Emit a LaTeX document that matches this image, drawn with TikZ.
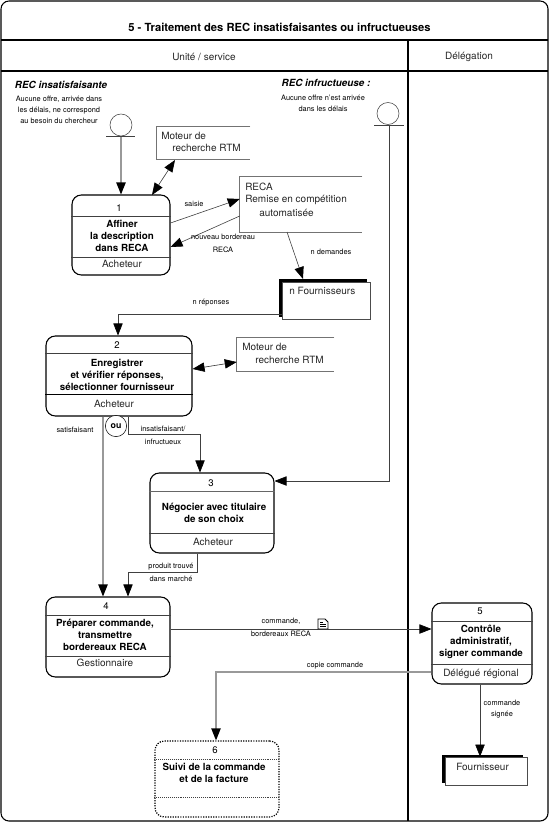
\documentclass[tikz,border=0pt]{standalone}
\usepackage{fontspec}
\setmainfont{TeX Gyre Heros}
\usetikzlibrary{arrows.meta}
\tikzset{
  tache/.style={draw, line width=0.8pt, rounded corners=7pt, fill=white},
  tachepot/.style={draw, line width=0.9pt, densely dotted, rounded corners=7pt},
  flow/.style={line width=0.45pt, black!75, -{Triangle[length=9pt,width=7pt,black]}},
  flowgris/.style={line width=0.9pt, black!40, -{Triangle[length=9pt,width=7pt,black]}},
  flowdouble/.style={line width=0.45pt, black!80, {Triangle[length=9pt,width=7pt,black]}-{Triangle[length=9pt,width=7pt,black]}},
  trait/.style={line width=0.45pt, black!75},
  cadre/.style={line width=0.8pt},
  etat/.style={draw, circle, line width=0.4pt, black!75, minimum size=16.5pt, inner sep=0pt},
  outil/.style={inner sep=0pt},
  acteur/.style={draw, line width=0.5pt, black!70, fill=white, inner sep=0pt},
  titre/.style={font=\fontsize{8.4}{10}\selectfont\bfseries},
  gras/.style={font=\fontsize{7.35}{9}\selectfont\bfseries, align=center},
  texte/.style={font=\fontsize{7.5}{9}\selectfont, text=black!85, align=center},
  petit/.style={font=\fontsize{5.55}{8.25}\selectfont, align=center},
  num/.style={font=\fontsize{7.2}{9}\selectfont},
  note/.style={font=\fontsize{7.4}{9}\selectfont\bfseries\itshape}
}
\begin{document}
\begin{tikzpicture}[x=0.75pt,y=-0.75pt]
\useasboundingbox (0,0) rectangle (550,823);

% cadre
\draw[cadre, rounded corners=6pt] (1,1) rectangle (548,821);
\draw[cadre] (1,40) -- (548,40);
\draw[cadre] (1,71) -- (548,71);
\draw[cadre] (408,40) -- (408,821);
\node[titre] (titre) at (279.5,27) {5 - Traitement des REC insatisfaisantes ou infructueuses};
\node[texte] (unite) at (204,57) {Unité / service};
\node[texte] (deleg) at (469,57) {Délégation};

% etats de depart
\node[note] (recins) at (61,85) {REC insatisfaisante};
\node[petit] (recinstxt) at (59,110) {Aucune offre, arrivée dans\\les délais, ne correspond\\au besoin du chercheur};
\node[note] (recinf) at (326,83) {REC infructueuse :};
\node[petit] (recinftxt) at (323,103) {Aucune offre n'est arrivée\\dans les délais};
\node[etat] (dep1) at (121,125) {};
\node[etat] (dep2) at (388,113.5) {};
\draw[trait] (106,136.5) -- (135,136.5);
\draw[trait] (374,125) -- (404,125);

% taches
\node[tache, minimum width=73.5pt, minimum height=60pt] (t1) at (121,235) {};
\node[tache, minimum width=109.5pt, minimum height=60pt] (t2) at (119,376) {};
\node[tache, minimum width=93pt, minimum height=60pt] (t3) at (212,513) {};
\node[tache, minimum width=93pt, minimum height=60pt] (t4) at (108,637) {};
\node[tache, minimum width=75pt, minimum height=60.75pt] (t5) at (482,643.5) {};
\node[tachepot, minimum width=93pt, minimum height=57pt] (t6) at (217,779) {};

\draw[trait] (t1.west |- 0,216) -- (t1.east |- 0,216);
\draw[trait] (t1.west |- 0,257) -- (t1.east |- 0,257);
\draw[trait] (t2.west |- 0,353) -- (t2.east |- 0,353);
\draw[cadre] (t2.west |- 0,394.5) -- (t2.east |- 0,394.5);
\draw[cadre, black!60] (t3.west |- 0,491.5) -- (t3.east |- 0,491.5);
\draw[trait] (t3.west |- 0,533) -- (t3.east |- 0,533);
\draw[trait] (t4.west |- 0,615) -- (t4.east |- 0,615);
\draw[trait] (t4.west |- 0,656) -- (t4.east |- 0,656);
\draw[trait] (t5.west |- 0,621) -- (t5.east |- 0,621);
\draw[trait] (t5.west |- 0,664) -- (t5.east |- 0,664);
\draw[trait, densely dotted] (t6.west |- 0,759) -- (t6.east |- 0,759);
\draw[trait, densely dotted] (t6.west |- 0,797) -- (t6.east |- 0,797);

\node[num] (n1) at (119,208) {1};
\node[gras] (l1) at (122,236) {Affiner\\la description\\dans RECA};
\node[texte] (a1) at (122,264) {Acheteur};
\node[num] (n2) at (117,345) {2};
\node[gras] (l2) at (117,375) {Enregistrer\\et vérifier réponses,\\sélectionner fournisseur};
\node[texte] (a2) at (114,404) {Acheteur};
\node[num] (n3) at (211,483) {3};
\node[gras] (l3) at (214,513) {Négocier avec titulaire\\de son choix};
\node[texte] (a3) at (213,542) {Acheteur};
\node[num] (n4) at (106,606) {4};
\node[gras] (l4) at (105,635) {Préparer commande,\\transmettre\\bordereaux RECA};
\node[texte] (a4) at (105,663) {Gestionnaire};
\node[num] (n5) at (480,611) {5};
\node[gras] (l5) at (481,642) {Contrôle\\administratif,\\signer commande};
\node[texte] (a5) at (481,674) {Délégué régional};
\node[num] (n6) at (215,750) {6};
\node[gras] (l6) at (214,773) {Suivi de la commande\\et de la facture};

% outils
\node[outil, minimum width=69.75pt, minimum height=24pt] (m1) at (203.5,143) {};
\node[outil, minimum width=91.5pt, minimum height=41.25pt] (reca) at (301,204.5) {};
\node[outil, minimum width=72.75pt, minimum height=24.75pt] (m2) at (285.5,354.5) {};
\draw[trait, black!55] (m1.north east) -- (m1.north west) -- (m1.south west) -- (m1.south east);
\draw[trait, black!55] (reca.north east) -- (reca.north west) -- (reca.south west) -- (reca.south east);
\draw[trait, black!55] (m2.north east) -- (m2.north west) -- (m2.south west) -- (m2.south east);
\node[texte, anchor=west, inner sep=0pt] (m1a) at (161,136) {Moteur de};
\node[texte, anchor=west, inner sep=0pt] (m1b) at (172,148) {recherche RTM};
\node[texte, anchor=west, inner sep=0pt] (r1) at (245,187) {RECA};
\node[texte, anchor=west, inner sep=0pt] (r2) at (245,200) {Remise en compétition};
\node[texte, anchor=west, inner sep=0pt] (r3) at (259,213) {automatisée};
\node[texte, anchor=west, inner sep=0pt] (m2a) at (242,347) {Moteur de};
\node[texte, anchor=west, inner sep=0pt] (m2b) at (255,360) {recherche RTM};

% acteurs externes
\fill (279,279) rectangle (367,283);
\fill (279,279) rectangle (283,317);
\node[acteur, minimum width=66pt, minimum height=27.75pt] (four) at (326,300.5) {};
\node[texte, anchor=west, inner sep=0pt] (fourtxt) at (289,291) {n Fournisseurs};
\fill (442,755) rectangle (523,758);
\fill (442,755) rectangle (445,783);
\node[acteur, minimum width=61.5pt, minimum height=21pt] (four2) at (486,771) {};
\node[texte, anchor=west, inner sep=0pt] (four2txt) at (456,767) {Fournisseur};

% ou
\node[draw, circle, line width=0.4pt, fill=white, minimum size=16pt, inner sep=0pt, font=\fontsize{6.6}{8}\selectfont\bfseries] (ou) at (116,426) {ou};

% points de passage
\coordinate (cins) at (128,434);
\coordinate (cneg) at (200,434);
\coordinate (csat) at (103,500);
\coordinate (cprod) at (197,572);
\coordinate (cdans) at (128,572);
\coordinate (crep) at (118,314);
\coordinate (ccop) at (216,672);
\coordinate (csig) at (480,720);
\coordinate (cinf) at (389,481);

% liens
\path[draw,flowgris] (dep1.south |- 0,137) -- (t1.north);
\path[draw,flow] (389,125) -- (cinf) -- (t3.east |- cinf);
\path[draw,flowdouble] (175,160) -- (152,195);
\path[draw,flow] (t1.east |- 0,223) -- (reca.west |- 0,199);
\path[draw,flow] (reca.west |- 0,216) -- (t1.east |- 0,247);
\path[draw,flow] (287,232) -- (303,279);
\path[draw,flow] (four.west |- crep) -- (crep) -- (crep |- t2.north);
\path[draw,flowdouble] (t2.east |- 0,369) -- (m2.west |- 0,362);
\path[draw,flowgris] (t2.south -| csat) -- (t4.north -| csat);
\path[draw,flow] (t2.south -| cins) -- (cins) -- (cneg) -- (cneg |- t3.north);
\path[draw,flow] (t3.south -| cprod) -- (cprod) -- (cdans) -- (cdans |- t4.north);
\path[draw,flow] (t4.east |- 0,629) -- (t5.west |- 0,629);
\path[draw,flowgris] (t5.west |- ccop) -- (ccop) -- (ccop |- t6.north);
\path[draw,flow] (t5.south -| csig) -- (csig |- four2.north);

% libelles
\node[petit] (lsaisie) at (194,204) {saisie};
\node[petit] (lnouv) at (223,243.5) {nouveau bordereau\\[1.5pt]RECA};
\node[petit] (ldem) at (331,252) {n demandes};
\node[petit] (lrep) at (211,303) {n réponses};
\node[petit] (lsat) at (75,430) {satisfaisant};
\node[petit] (lins) at (163,435.5) {insatisfaisant/\\[1.5pt]infructueux};
\node[petit] (lprod) at (171,572) {produit trouvé\\[1.5pt]dans marché};
\node[petit] (lcmd) at (281,627.5) {commande,\\[1.5pt]bordereaux RECA};
\node[petit] (lcop) at (335,666) {copie commande};
\node[petit] (lsig) at (502,709.5) {commande\\signée};

% document
\draw[line width=0.6pt, fill=white] (318,619) -- (325,619) -- (328,622) -- (328,629) -- (318,629) -- cycle;
\draw[line width=0.6pt] (320,622) -- (323,622) (320,624.5) -- (326,624.5) (320,626.5) -- (326,626.5);
\end{tikzpicture}
\end{document}
